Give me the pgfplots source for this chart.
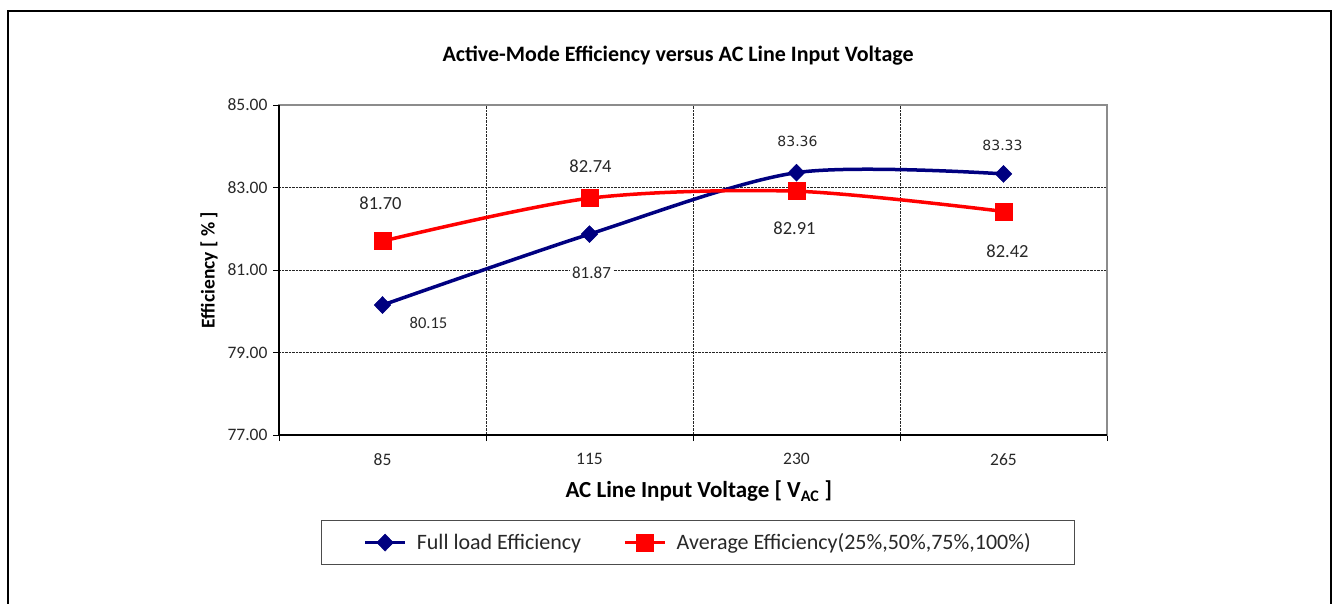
\documentclass[border=0pt]{standalone}
\usepackage{fontspec}
\setmainfont{Carlito}
\newfontfamily\dv{DejaVu Sans}
\usepackage{pgfplots}
\pgfplotsset{compat=1.18}
\definecolor{navy}{RGB}{0,0,128}
\definecolor{txt}{RGB}{40,40,40}
\begin{document}
\begin{tikzpicture}[x=1pt,y=1pt]
\useasboundingbox (0,0) rectangle (1338,603);
\draw[line width=2pt] (8,-5) -- (8,592) -- (1331,592) -- (1331,-5);
\begin{axis}[
  at={(279pt,168pt)}, anchor=south west,
  scale only axis, width=828pt, height=330pt,
  xmin=-0.5, xmax=3.5, ymin=77, ymax=85,
  xtick={0,1,2,3}, xticklabels={85,115,230,265},
  minor xtick={-0.5,0.5,1.5,2.5,3.5},
  ytick={77,79,81,83,85}, yticklabels={77.00,79.00,81.00,83.00,85.00},
  tick pos=left, tick align=outside,
  major tick length=6pt, minor tick length=6pt,
  major x tick style={draw=none},
  every tick/.style={black, line width=1pt},
  every minor tick/.style={black, line width=1pt},
  xminorgrids=true, ymajorgrids=true,
  major grid style={black!85, densely dotted, line width=0.9pt},
  minor grid style={black!85, densely dotted, line width=0.9pt},
  axis line style={black!45, line width=1.5pt},
  tick label style={font=\fontsize{17.5}{20}\selectfont, text=txt},
  xticklabel style={yshift=-9pt},
  yticklabel style={xshift=-2pt},
  title={\bfseries Active-Mode Efficiency versus AC Line Input Voltage},
  title style={font=\fontsize{22}{26}\selectfont, at={(axis description cs:0.482,1.13)}, anchor=center},
  xlabel={\bfseries AC Line Input Voltage [ V\textsubscript{AC} ]},
  xlabel style={font=\fontsize{23}{26}\selectfont, at={(axis description cs:0.507,-0.17)}, anchor=center},
  ylabel={\bfseries Efficiency [ \% ]},
  ylabel style={font=\fontsize{19.5}{22}\selectfont, at={(axis description cs:-0.0845,0.5)}, anchor=center, rotate=0},
  legend columns=2,
  legend style={at={(0.506,-0.326)}, anchor=center, draw=black!70, line width=1pt,
    font=\fontsize{22}{25}\selectfont, text=txt, inner xsep=42pt, inner ysep=11pt,
    /tikz/every odd column/.append style={column sep=8pt},
    /tikz/every even column/.append style={column sep=40pt}},
  legend image code/.code={\draw[#1,mark repeat=2,mark phase=2] plot coordinates {(0pt,0pt)(20pt,0pt)(40pt,0pt)};},
  clip=false,
]
\addplot[navy, line width=3.5pt, smooth, tension=0.5, mark=diamond*, mark size=8.5pt, mark options={solid, xscale=1.3, line width=0.5pt}]
  coordinates {(0,80.15) (1,81.87) (2,83.36) (3,83.33)};
\addlegendentry{Full load Efficiency}
\addplot[red, line width=3.5pt, smooth, tension=0.5, mark=square*, mark size=8.5pt, mark options={solid, line width=0.5pt}]
  coordinates {(0,81.70) (1,82.74) (2,82.91) (3,82.42)};
\addlegendentry{Average Efficiency(25\%,50\%,75\%,100\%)}
% data labels
\node[font=\fontsize{16.5}{19}\selectfont, text=txt, xshift=46pt, yshift=-18pt] at (axis cs:0,80.15) {80.15};
\node[font=\fontsize{17}{19}\selectfont, text=txt, fill=white, inner sep=2pt, xshift=2pt, yshift=-39pt] at (axis cs:1,81.87) {81.87};
\node[font=\dv\fontsize{14}{16}\selectfont, text=txt, xshift=1pt, yshift=31pt] at (axis cs:2,83.36) {83.36};
\node[font=\dv\fontsize{14}{16}\selectfont, text=txt, xshift=-1pt, yshift=28pt] at (axis cs:3,83.33) {83.33};
\node[font=\fontsize{18.5}{21}\selectfont, text=txt, xshift=-2pt, yshift=38pt] at (axis cs:0,81.70) {81.70};
\node[font=\fontsize{18.5}{21}\selectfont, text=txt, xshift=1pt, yshift=32pt] at (axis cs:1,82.74) {82.74};
\node[font=\fontsize{18.5}{21}\selectfont, text=txt, xshift=-2pt, yshift=-37pt] at (axis cs:2,82.91) {82.91};
\node[font=\fontsize{18.5}{21}\selectfont, text=txt, xshift=4pt, yshift=-40pt] at (axis cs:3,82.42) {82.42};
\draw[black, line width=1.5pt] (rel axis cs:0,1) -- (rel axis cs:0,0) -- (rel axis cs:1,0);
\end{axis}
\end{tikzpicture}
\end{document}
